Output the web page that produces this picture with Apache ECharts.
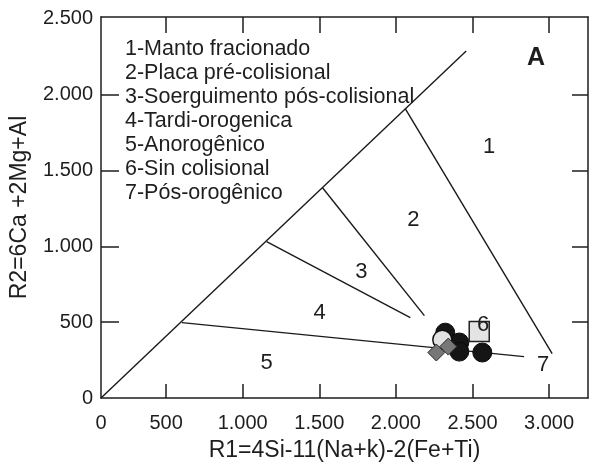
<!DOCTYPE html>
<html>
<head>
<meta charset="utf-8">
<script src="https://cdn.jsdelivr.net/npm/echarts@6/dist/echarts.min.js"></script>
<style>
html,body{margin:0;padding:0;background:#fff;}
#chart{width:595px;height:474px;}
</style>
</head>
<body>
<div id="chart"></div>
<script>
// limites dos campos (R1, R2)
var lineDiagonal = [[75, 0], [2459, 2289]];
var line45 = [[603, 497], [2837, 273]];
var line34 = [[1156, 1031], [2094, 530]];
var line23 = [[1521, 1387], [2186, 543]];
var line12 = [[2062, 1907], [3020, 293]];

// amostras
var blackPts = [[2322, 431], [2414, 366], [2414, 306], [2564, 300]];
var lightPts = [[2303, 385]];
var diamondPts = [[2264, 300], [2342, 339]];
var squarePts = [[2544, 438]];

// numeros dos campos
var regionNames = ['1', '2', '3', '4', '5', '6', '7'];
var regionPos = [[2609, 1657], [2114, 1177], [1775, 833], [1502, 563], [1156, 234], [2570, 484], [2961, 221]];

var legendLines = [
  '1-Manto fracionado',
  '2-Placa pré-colisional',
  '3-Soerguimento pós-colisional',
  '4-Tardi-orogenica',
  '5-Anorogênico',
  '6-Sin colisional',
  '7-Pós-orogênico'
];

var xTicks = [500, 1000, 1500, 2000, 2500, 3000];
var xLabels = [75, 500, 1000, 1500, 2000, 2500, 3000];
var yTicks = [500, 1000, 1500, 2000];
var yLabels = [0, 500, 1000, 1500, 2000, 2500];

var font = 'Liberation Sans, Arial, sans-serif';
var ink = '#1e1e1e';

function fmt(v){
  if (v < 100) return '0';
  var s = String(Math.round(v));
  if (s.length > 3) s = s.slice(0, s.length - 3) + '.' + s.slice(s.length - 3);
  return s;
}

var regionData = [];
for (var i = 0; i < regionNames.length; i++) {
  regionData.push({ value: regionPos[i], name: regionNames[i] });
}

function bound(d){
  return {
    type: 'line', data: d, symbol: 'none', silent: true,
    lineStyle: { color: '#1a1a1a', width: 1.4 }, z: 2
  };
}

var myChart = echarts.init(document.getElementById('chart'));
var axisLine = { show: true, onZero: false, lineStyle: { color: ink, width: 1.5 } };

var option = {
  animation: false,
  grid: { left: 100, right: 7, top: 17, bottom: 76 },
  xAxis: [
    {
      type: 'value', min: 75, max: 3254, position: 'bottom',
      name: 'R1=4Si-11(Na+k)-2(Fe+Ti)', nameLocation: 'middle', nameGap: 41,
      nameTextStyle: { fontFamily: font, fontSize: 23, color: ink },
      axisLine: axisLine,
      axisTick: { show: true, inside: true, length: 14, customValues: xTicks, lineStyle: { color: ink, width: 1.5 } },
      axisLabel: { show: true, customValues: xLabels, formatter: fmt, margin: 15, fontFamily: font, fontSize: 20, color: ink },
      splitLine: { show: false }
    },
    {
      type: 'value', min: 75, max: 3254, position: 'top',
      axisLine: axisLine,
      axisTick: { show: true, inside: true, length: 16, customValues: xTicks, lineStyle: { color: ink, width: 1.5 } },
      axisLabel: { show: false },
      splitLine: { show: false }
    }
  ],
  yAxis: [
    {
      type: 'value', min: 0, max: 2513, position: 'left',
      name: 'R2=6Ca +2Mg+Al', nameLocation: 'middle', nameGap: 70,
      nameTextStyle: { fontFamily: font, fontSize: 23, color: ink },
      axisLine: axisLine,
      axisTick: { show: true, inside: true, length: 18, customValues: yTicks, lineStyle: { color: ink, width: 1.5 } },
      axisLabel: { show: true, customValues: yLabels, formatter: fmt, margin: 8, fontFamily: font, fontSize: 20, color: ink },
      splitLine: { show: false }
    },
    {
      type: 'value', min: 0, max: 2513, position: 'right',
      axisLine: axisLine,
      axisTick: { show: true, inside: true, length: 16, customValues: yTicks, lineStyle: { color: ink, width: 1.5 } },
      axisLabel: { show: false },
      splitLine: { show: false }
    }
  ],
  series: [
    bound(lineDiagonal),
    bound(line45),
    bound(line34),
    bound(line23),
    bound(line12),
    {
      type: 'scatter', data: blackPts, symbol: 'circle', symbolSize: 19,
      itemStyle: { color: '#151515', borderColor: '#0a0a0a', borderWidth: 1, opacity: 1 }, z: 3
    },
    {
      type: 'scatter', data: lightPts, symbol: 'circle', symbolSize: 19,
      itemStyle: { color: '#e2e2e2', borderColor: '#111', borderWidth: 1.5, opacity: 1 }, z: 4
    },
    {
      type: 'scatter', data: diamondPts, symbol: 'diamond', symbolSize: [17, 17],
      itemStyle: { color: '#777777', borderColor: '#2a2a2a', borderWidth: 1, opacity: 1 }, z: 5
    },
    {
      type: 'scatter', data: squarePts, symbol: 'rect', symbolSize: 20,
      itemStyle: { color: '#e4e4e4', borderColor: '#222', borderWidth: 1.5, opacity: 1 }, z: 5
    },
    {
      type: 'scatter', data: regionData, symbolSize: 0, silent: true, z: 6,
      itemStyle: { opacity: 1 },
      label: {
        show: true, position: 'inside', formatter: '{b}', opacity: 1,
        fontFamily: font, fontSize: 22, color: ink
      }
    }
  ],
  graphic: [
    {
      type: 'text', left: 125, top: 37, z: 10,
      style: { text: legendLines.join('\n'), font: '21.5px ' + font, lineHeight: 24, fill: ink }
    },
    {
      type: 'text', x: 536, y: 58, z: 10,
      style: { text: 'A', font: 'bold 25px ' + font, fill: ink, align: 'center', verticalAlign: 'middle' }
    }
  ]
};
myChart.setOption(option);
</script>
</body>
</html>
